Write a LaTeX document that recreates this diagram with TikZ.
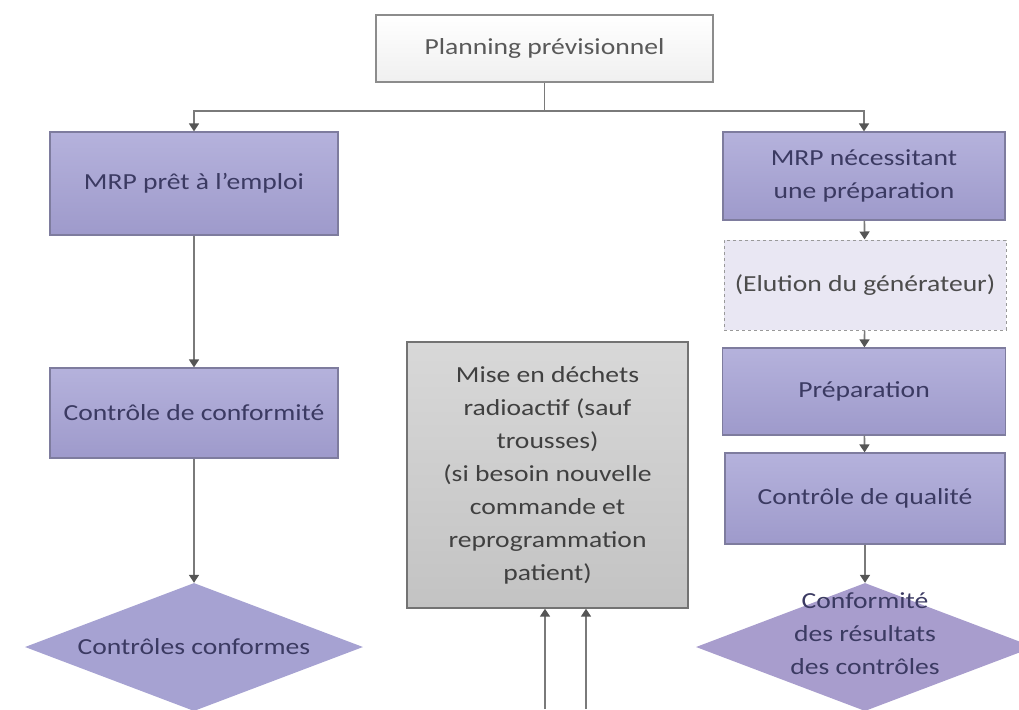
\documentclass[tikz,border=0pt]{standalone}
\usepackage{fontspec}
\setmainfont{Carlito}[FakeStretch=1.2]
\usetikzlibrary{shapes.geometric,arrows.meta}
\definecolor{lavtop}{HTML}{B5B2DC}
\definecolor{lavbot}{HTML}{9E9ACB}
\definecolor{lavtext}{HTML}{3B3A62}
\definecolor{lavedge}{HTML}{7E7C9E}
\definecolor{lavpale}{HTML}{E9E7F3}
\definecolor{lavleft}{HTML}{A6A2D2}
\definecolor{lavright}{HTML}{A89DCD}
\definecolor{greytop}{HTML}{D8D8D8}
\definecolor{greybot}{HTML}{C3C3C3}
\definecolor{linegrey}{HTML}{7A7A7A}
\definecolor{tipgrey}{HTML}{555555}
\tikzset{
  txt/.style={font=\fontsize{23}{33}\selectfont, align=center, inner sep=2pt},
  stepbox/.style={txt, rectangle, draw=lavedge, line width=1.2pt, text=lavtext,
    top color=lavtop, bottom color=lavbot},
  choice/.style={txt, diamond, aspect=2.64, inner sep=0pt, text=lavtext,
    minimum width=338pt, minimum height=128pt},
  arr/.style={draw=linegrey, line width=1.6pt,
    -{Triangle[width=10pt,length=8pt,color=tipgrey]}}
}
\begin{document}
\begin{tikzpicture}[x=1pt,y=-1pt]
\useasboundingbox (0,0) rectangle (1019,709);

\node[txt, rectangle, draw=black!45, line width=1.6pt, text=black!65,
  top color=white, bottom color=black!6,
  minimum width=337pt, minimum height=67pt] (plan) at (544.5,48.5) {Planning prévisionnel};

% colonne de gauche
\node[stepbox, minimum width=288pt, minimum height=103pt] (pret) at (194,183.5) {MRP prêt à l'emploi};
\node[stepbox, minimum width=288pt, minimum height=90pt] (conf) at (194,413) {Contrôle de conformité};
\node[choice, fill=lavleft] (okgauche) at (194,647) {Contrôles conformes};

% colonne de droite
\node[stepbox, minimum width=282pt, minimum height=88pt] (prepa) at (864,176) {MRP nécessitant\\une préparation};
\node[txt, rectangle, draw=black!40, dashed, line width=1pt, fill=lavpale, text=black!70,
  minimum width=282pt, minimum height=90pt] (elution) at (865,285) {(Elution du générateur)};
\node[stepbox, minimum width=283pt, minimum height=87pt] (prep) at (864,391.5) {Préparation};
\node[stepbox, minimum width=280pt, minimum height=91pt] (qualite) at (865,498.5) {Contrôle de qualité};
\node[choice, fill=lavright,
  label={[txt, text=lavtext, yshift=13pt]center:{Conformité\\des résultats\\des contrôles}}] (okdroite) at (865,647) {};

% dechets
\node[txt, rectangle, draw=black!55, line width=1.4pt, text=black!75,
  top color=greytop, bottom color=greybot,
  minimum width=281pt, minimum height=266pt] (dechets) at (547.5,475)
  {Mise en déchets\\radioactif (sauf\\trousses)\\(si besoin nouvelle\\commande et\\reprogrammation\\patient)};

\coordinate (bas1) at (545,709);
\coordinate (bas2) at (586,709);

\draw[arr] (plan.south) -- ++(0,28) coordinate (split) -| (pret.north);
\draw[arr] (split) -| (prepa.north);
\draw[arr] (pret) -- (conf);
\draw[arr] (conf) -- (okgauche);
\draw[arr] (prepa) -- (elution);
\draw[arr] (elution) -- (prep);
\draw[arr] (prep) -- (qualite);
\draw[arr] (qualite) -- (okdroite);
\draw[arr] (bas1) -- (bas1 |- dechets.south);
\draw[arr] (bas2) -- (bas2 |- dechets.south);

\end{tikzpicture}
\end{document}
